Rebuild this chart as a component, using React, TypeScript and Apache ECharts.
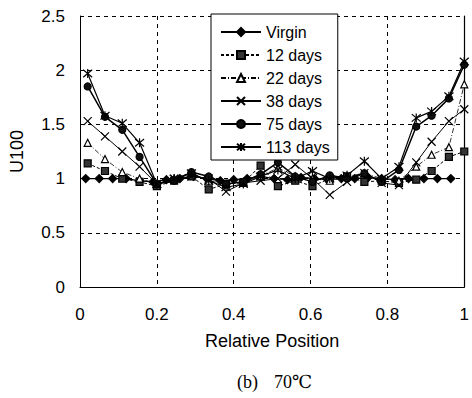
import React, { useEffect, useRef } from "react";
import * as echarts from "echarts";

const seriesNames = ["Virgin", "12 days", "22 days", "38 days", "75 days", "113 days"];

const virginX = [0.015, 0.05, 0.085, 0.12, 0.155, 0.19, 0.225, 0.26, 0.295, 0.33, 0.365, 0.4, 0.435, 0.47, 0.505, 0.54, 0.575, 0.61, 0.645, 0.68, 0.715, 0.75, 0.785, 0.82, 0.855, 0.895, 0.93, 0.965];
const virginY = [1.0, 1.0, 1.0, 1.0, 0.98, 0.97, 0.99, 1.0, 1.02, 1.0, 0.98, 0.99, 1.0, 1.02, 1.0, 0.99, 1.01, 1.0, 0.99, 1.0, 1.0, 1.01, 1.0, 0.99, 1.0, 1.0, 1.0, 1.0];

const agedX = [0.02, 0.065, 0.11, 0.155, 0.2, 0.245, 0.29, 0.335, 0.38, 0.425, 0.47, 0.515, 0.56, 0.605, 0.65, 0.695, 0.74, 0.785, 0.83, 0.875, 0.915, 0.96, 1.0];
const days12 = [1.14, 1.07, 1.0, 0.97, 0.93, 0.98, 1.02, 0.9, 0.95, 0.96, 1.12, 0.93, 0.98, 0.93, 1.0, 1.02, 0.97, 0.98, 0.96, 0.99, 1.07, 1.2, 1.25];
const days22 = [1.33, 1.18, 1.06, 1.0, 0.95, 1.0, 1.05, 0.98, 0.95, 0.97, 1.02, 1.1, 1.02, 1.0, 0.98, 1.02, 1.05, 1.0, 0.98, 1.11, 1.22, 1.29, 1.87];
const days38 = [1.53, 1.39, 1.25, 1.11, 0.95, 1.0, 1.02, 1.0, 0.88, 0.96, 0.98, 1.0, 1.13, 1.0, 0.85, 0.97, 1.05, 0.96, 0.94, 1.15, 1.34, 1.53, 1.64];
const days75 = [1.85, 1.57, 1.45, 1.2, 0.95, 0.98, 1.06, 1.02, 0.95, 0.97, 1.04, 1.15, 1.02, 0.97, 1.03, 1.0, 1.05, 0.97, 1.08, 1.48, 1.58, 1.74, 2.05];
const days113 = [1.97, 1.58, 1.51, 1.33, 0.95, 1.0, 1.05, 0.98, 0.92, 0.95, 1.02, 1.08, 1.0, 1.07, 1.0, 1.03, 1.16, 1.0, 1.11, 1.56, 1.62, 1.76, 2.08];

const xTicks = [0, 0.2, 0.4, 0.6, 0.8, 1];

const crossPath = "path://M0,0L10,10M10,0L0,10";
const starPath = "path://M0,0L10,10M10,0L0,10M5,-1L5,11";

const FONT = "'Liberation Sans', Arial, sans-serif";
const SERIF = "'Liberation Serif', 'DejaVu Serif', serif";

export default function App() {
  const ref = useRef<HTMLDivElement>(null);
  useEffect(() => {
    const chart = echarts.init(ref.current!, null, { renderer: "svg" });
    const pair = (xs: number[], ys: number[]) => xs.map((x, i) => [x, ys[i]]);
    const base = (name: string, data: number[][], symbol: string, symbolSize: number, fill: string, lineStyle: any) => ({
      name,
      type: "line",
      data,
      symbol,
      symbolSize,
      showSymbol: true,
      lineStyle: { color: "#000", ...lineStyle },
      itemStyle: { color: fill, borderColor: "#000", borderWidth: 1.2 },
      emphasis: { disabled: true },
      z: 3,
    });
    chart.setOption({
      animation: false,
      textStyle: { fontFamily: FONT, color: "#000" },
      grid: { left: 78, right: 5, top: 16, bottom: 111, containLabel: false },
      legend: {
        orient: "vertical",
        left: 211,
        top: 14,
        itemWidth: 40,
        itemHeight: 10,
        itemGap: 7,
        padding: [10, 8, 5, 9],
        backgroundColor: "#fff",
        borderColor: "#000",
        borderWidth: 1,
        borderRadius: 0,
        textStyle: { fontSize: 16, color: "#000", fontFamily: FONT },
        data: seriesNames,
        z: 10,
      },
      xAxis: {
        type: "value",
        min: 0,
        max: 1,
        interval: 0.2,
        name: "Relative Position",
        nameLocation: "middle",
        nameGap: 45,
        nameTextStyle: { fontSize: 18, color: "#000", fontFamily: FONT },
        axisLine: { show: true, lineStyle: { color: "#000", width: 1 } },
        axisTick: { show: false },
        axisLabel: {
          fontSize: 17,
          color: "#000",
          margin: 19,
          fontFamily: FONT,
          customValues: xTicks,
          formatter: (v: number) => String(v),
        },
        splitLine: { show: true, lineStyle: { color: "#000", type: [4, 4], width: 1 } },
      },
      yAxis: [
        {
          type: "value",
          min: 0,
          max: 2.5,
          interval: 0.5,
          name: "U100",
          nameLocation: "middle",
          nameRotate: 90,
          nameGap: 54,
          nameTextStyle: { fontSize: 18, color: "#000", fontFamily: FONT },
          axisLine: { show: true, lineStyle: { color: "#000", width: 1 } },
          axisTick: { show: true, inside: true, length: 3, lineStyle: { color: "#000" } },
          axisLabel: {
            fontSize: 17,
            color: "#000",
            margin: 15,
            fontFamily: FONT,
            formatter: (v: number) => String(v),
          },
          splitLine: { show: true, lineStyle: { color: "#000", type: [4, 4], width: 1 } },
        },
        {
          type: "value",
          min: 0,
          max: 2.5,
          interval: 0.5,
          position: "right",
          axisLine: { show: true, lineStyle: { color: "#000", width: 1.2 } },
          axisTick: { show: false },
          axisLabel: { show: false },
          splitLine: { show: false },
        },
      ],
      series: [
        base("Virgin", pair(virginX, virginY), "diamond", 8, "#000", { width: 1.3, type: "solid" }),
        base("12 days", pair(agedX, days12), "rect", 7, "#333", { width: 1, type: [3, 2] }),
        base("22 days", pair(agedX, days22), "triangle", 7, "#fff", { width: 0.8, type: [5, 2, 1, 2] }),
        base("38 days", pair(agedX, days38), crossPath, 8, "transparent", { width: 1, type: "solid" }),
        base("75 days", pair(agedX, days75), "circle", 7, "#111", { width: 1.5, type: "solid" }),
        base("113 days", pair(agedX, days113), starPath, 9, "transparent", { width: 1.2, type: "solid" }),
      ],
      graphic: [
        {
          type: "text",
          left: 237,
          top: 373,
          style: { text: "(b)", fontSize: 18, fontFamily: SERIF, fill: "#000" },
        },
        {
          type: "text",
          left: 274,
          top: 373,
          style: { text: "70℃", fontSize: 18, fontFamily: SERIF, fill: "#000" },
        },
      ],
    });
    return () => chart.dispose();
  }, []);
  return <div ref={ref} style={{ width: 472, height: 398, position: "absolute", left: 0, top: 0, background: "#fff" }} />;
}
